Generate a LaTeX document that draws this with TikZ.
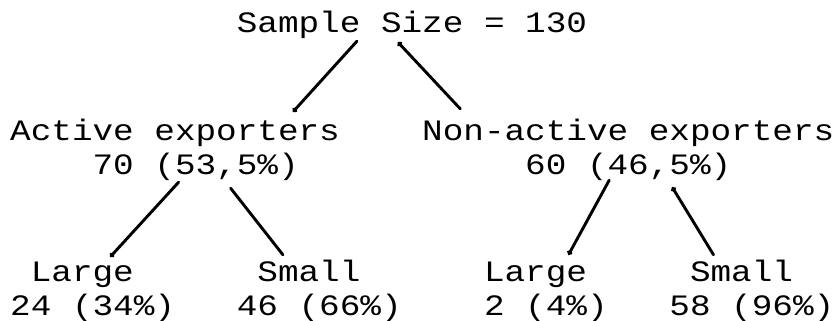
\documentclass[tikz,border=0pt]{standalone}
\usepackage{fontspec}
\newfontfamily\dotfont[FakeStretch=1.16]{Liberation Mono}
\usetikzlibrary{arrows.meta, calc}

\begin{document}
\begin{tikzpicture}[x=1pt, y=-1pt,
	lbl/.style={anchor=base west, inner sep=0pt, text height=21pt, text depth=6pt,
		font=\dotfont\fontsize{29.6}{30}\selectfont},
	link/.style={line width=2.9pt, line cap=round},
	blob/.style={-{Circle[length=5pt]}},
	boldstart/.style={{Circle[length=5pt]}-}]
				\useasboundingbox (0,0) rectangle (836,321);

				% top
				\node[lbl] (root) at (236.6,33) {Sample Size = 130};

				% exporters
				\node[lbl] (act) at (10,140) {Active exporters};
				\node[lbl] (actn) at (92.4,174) {70 (53,5\%)};
				\node[lbl] (non) at (422,140) {Non-active exporters};
				\node[lbl] (nonn) at (525,174) {60 (46,5\%)};

				% size
				\node[lbl] (al) at (30.6,281) {Large};
				\node[lbl] (aln) at (10,315) {24 (34\%)};
				\node[lbl] (as) at (257.2,281) {Small};
				\node[lbl] (asn) at (236.6,315) {46 (66\%)};
				\node[lbl] (nl) at (483.8,281) {Large};
				\node[lbl] (nln) at (483.8,315) {2 (4\%)};
				\node[lbl] (ns) at (689.8,281) {Small};
				\node[lbl] (nsn) at (669.2,315) {58 (96\%)};

				\draw[link, blob] ($(root.south)+(-55,2)$) -- ($(act.north)+(118,-7)$);
				\draw[link, boldstart] ($(root.south)+(-14,3)$) -- ($(non.north)+(-168,-10)$);
				\draw[link, blob] ($(actn.south)+(-17,2)$) -- ($(al.north)+(28,-3)$);
				\draw[link] ($(actn.south)+(35,8)$) -- ($(as.north)+(-26,-5)$);
				\draw[link, blob] ($(nonn.south)+(-19,0)$) -- ($(nl.north)+(33,-5)$);
				\draw[link, boldstart] ($(nonn.south)+(44,7)$) -- ($(ns.north)+(-28,-5)$);
			\end{tikzpicture}
\end{document}
